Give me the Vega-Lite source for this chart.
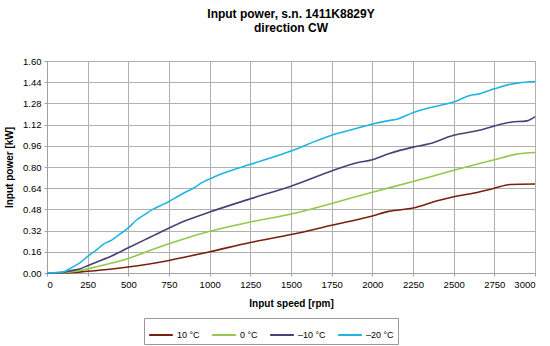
{
  "$schema": "https://vega.github.io/schema/vega-lite/v6.json",
  "width": 488,
  "height": 212,
  "autosize": {"type": "none"},
  "padding": {"left": 47, "top": 61, "right": 15, "bottom": 73},
  "background": "white",
  "title": {
    "text": ["Input power, s.n. 1411K8829Y", "direction CW"],
    "font": "Liberation Sans",
    "fontSize": 12,
    "fontWeight": "bold",
    "lineHeight": 14,
    "color": "#000000",
    "anchor": "middle",
    "offset": 21
  },
  "config": {
    "font": "Liberation Sans",
    "view": {"stroke": "#a0a0a0", "strokeWidth": 1},
    "axis": {
      "labelFont": "Liberation Sans",
      "labelFontSize": 9.5,
      "labelColor": "#000000",
      "titleFont": "Liberation Sans",
      "titleFontSize": 10,
      "titleFontWeight": "bold",
      "titleColor": "#000000",
      "gridColor": "#b0b0b0",
      "gridWidth": 1,
      "gridOpacity": 1,
      "domainColor": "#a0a0a0",
      "tickColor": "#a0a0a0",
      "tickSize": 3
    }
  },
  "data": {
    "values": [
      {"rpm": 0, "power": 0, "series": "10 °C"},
      {"rpm": 100, "power": 0.0, "series": "10 °C"},
      {"rpm": 250, "power": 0.013, "series": "10 °C"},
      {"rpm": 400, "power": 0.03, "series": "10 °C"},
      {"rpm": 500, "power": 0.045, "series": "10 °C"},
      {"rpm": 750, "power": 0.095, "series": "10 °C"},
      {"rpm": 1000, "power": 0.16, "series": "10 °C"},
      {"rpm": 1250, "power": 0.23, "series": "10 °C"},
      {"rpm": 1500, "power": 0.29, "series": "10 °C"},
      {"rpm": 1750, "power": 0.36, "series": "10 °C"},
      {"rpm": 2000, "power": 0.43, "series": "10 °C"},
      {"rpm": 2100, "power": 0.465, "series": "10 °C"},
      {"rpm": 2250, "power": 0.49, "series": "10 °C"},
      {"rpm": 2400, "power": 0.545, "series": "10 °C"},
      {"rpm": 2500, "power": 0.575, "series": "10 °C"},
      {"rpm": 2650, "power": 0.61, "series": "10 °C"},
      {"rpm": 2750, "power": 0.64, "series": "10 °C"},
      {"rpm": 2850, "power": 0.668, "series": "10 °C"},
      {"rpm": 3000, "power": 0.672, "series": "10 °C"},

      {"rpm": 0, "power": 0, "series": "0 °C"},
      {"rpm": 100, "power": 0.003, "series": "0 °C"},
      {"rpm": 200, "power": 0.018, "series": "0 °C"},
      {"rpm": 300, "power": 0.045, "series": "0 °C"},
      {"rpm": 400, "power": 0.075, "series": "0 °C"},
      {"rpm": 500, "power": 0.11, "series": "0 °C"},
      {"rpm": 600, "power": 0.155, "series": "0 °C"},
      {"rpm": 750, "power": 0.22, "series": "0 °C"},
      {"rpm": 850, "power": 0.26, "series": "0 °C"},
      {"rpm": 1000, "power": 0.315, "series": "0 °C"},
      {"rpm": 1250, "power": 0.385, "series": "0 °C"},
      {"rpm": 1500, "power": 0.445, "series": "0 °C"},
      {"rpm": 1750, "power": 0.525, "series": "0 °C"},
      {"rpm": 2000, "power": 0.61, "series": "0 °C"},
      {"rpm": 2250, "power": 0.69, "series": "0 °C"},
      {"rpm": 2500, "power": 0.775, "series": "0 °C"},
      {"rpm": 2750, "power": 0.855, "series": "0 °C"},
      {"rpm": 2900, "power": 0.9, "series": "0 °C"},
      {"rpm": 3000, "power": 0.91, "series": "0 °C"},

      {"rpm": 0, "power": 0, "series": "–10 °C"},
      {"rpm": 100, "power": 0.005, "series": "–10 °C"},
      {"rpm": 150, "power": 0.018, "series": "–10 °C"},
      {"rpm": 200, "power": 0.03, "series": "–10 °C"},
      {"rpm": 250, "power": 0.055, "series": "–10 °C"},
      {"rpm": 300, "power": 0.08, "series": "–10 °C"},
      {"rpm": 400, "power": 0.13, "series": "–10 °C"},
      {"rpm": 500, "power": 0.19, "series": "–10 °C"},
      {"rpm": 600, "power": 0.25, "series": "–10 °C"},
      {"rpm": 700, "power": 0.31, "series": "–10 °C"},
      {"rpm": 850, "power": 0.395, "series": "–10 °C"},
      {"rpm": 1000, "power": 0.46, "series": "–10 °C"},
      {"rpm": 1250, "power": 0.56, "series": "–10 °C"},
      {"rpm": 1500, "power": 0.655, "series": "–10 °C"},
      {"rpm": 1750, "power": 0.77, "series": "–10 °C"},
      {"rpm": 1900, "power": 0.83, "series": "–10 °C"},
      {"rpm": 2000, "power": 0.855, "series": "–10 °C"},
      {"rpm": 2100, "power": 0.9, "series": "–10 °C"},
      {"rpm": 2250, "power": 0.95, "series": "–10 °C"},
      {"rpm": 2350, "power": 0.975, "series": "–10 °C"},
      {"rpm": 2500, "power": 1.04, "series": "–10 °C"},
      {"rpm": 2650, "power": 1.075, "series": "–10 °C"},
      {"rpm": 2750, "power": 1.11, "series": "–10 °C"},
      {"rpm": 2850, "power": 1.138, "series": "–10 °C"},
      {"rpm": 2950, "power": 1.148, "series": "–10 °C"},
      {"rpm": 3000, "power": 1.18, "series": "–10 °C"},

      {"rpm": 0, "power": 0, "series": "–20 °C"},
      {"rpm": 100, "power": 0.008, "series": "–20 °C"},
      {"rpm": 150, "power": 0.04, "series": "–20 °C"},
      {"rpm": 200, "power": 0.075, "series": "–20 °C"},
      {"rpm": 250, "power": 0.125, "series": "–20 °C"},
      {"rpm": 300, "power": 0.17, "series": "–20 °C"},
      {"rpm": 350, "power": 0.22, "series": "–20 °C"},
      {"rpm": 400, "power": 0.25, "series": "–20 °C"},
      {"rpm": 450, "power": 0.295, "series": "–20 °C"},
      {"rpm": 500, "power": 0.34, "series": "–20 °C"},
      {"rpm": 550, "power": 0.4, "series": "–20 °C"},
      {"rpm": 600, "power": 0.44, "series": "–20 °C"},
      {"rpm": 650, "power": 0.48, "series": "–20 °C"},
      {"rpm": 700, "power": 0.51, "series": "–20 °C"},
      {"rpm": 750, "power": 0.54, "series": "–20 °C"},
      {"rpm": 800, "power": 0.575, "series": "–20 °C"},
      {"rpm": 850, "power": 0.61, "series": "–20 °C"},
      {"rpm": 900, "power": 0.64, "series": "–20 °C"},
      {"rpm": 950, "power": 0.68, "series": "–20 °C"},
      {"rpm": 1000, "power": 0.71, "series": "–20 °C"},
      {"rpm": 1100, "power": 0.76, "series": "–20 °C"},
      {"rpm": 1250, "power": 0.82, "series": "–20 °C"},
      {"rpm": 1500, "power": 0.92, "series": "–20 °C"},
      {"rpm": 1600, "power": 0.97, "series": "–20 °C"},
      {"rpm": 1750, "power": 1.04, "series": "–20 °C"},
      {"rpm": 1900, "power": 1.09, "series": "–20 °C"},
      {"rpm": 2000, "power": 1.125, "series": "–20 °C"},
      {"rpm": 2100, "power": 1.15, "series": "–20 °C"},
      {"rpm": 2150, "power": 1.16, "series": "–20 °C"},
      {"rpm": 2250, "power": 1.21, "series": "–20 °C"},
      {"rpm": 2300, "power": 1.23, "series": "–20 °C"},
      {"rpm": 2400, "power": 1.26, "series": "–20 °C"},
      {"rpm": 2500, "power": 1.29, "series": "–20 °C"},
      {"rpm": 2600, "power": 1.34, "series": "–20 °C"},
      {"rpm": 2650, "power": 1.35, "series": "–20 °C"},
      {"rpm": 2750, "power": 1.39, "series": "–20 °C"},
      {"rpm": 2850, "power": 1.425, "series": "–20 °C"},
      {"rpm": 2900, "power": 1.435, "series": "–20 °C"},
      {"rpm": 3000, "power": 1.445, "series": "–20 °C"}
    ]
  },
  "mark": {"type": "line", "strokeWidth": 1.6, "interpolate": "monotone"},
  "encoding": {
    "x": {
      "field": "rpm",
      "type": "quantitative",
      "title": "Input speed [rpm]",
      "scale": {"domain": [0, 3000], "nice": false},
      "axis": {"values": [0, 250, 500, 750, 1000, 1250, 1500, 1750, 2000, 2250, 2500, 2750, 3000], "format": "d", "titlePadding": 10, "labelPadding": 3}
    },
    "y": {
      "field": "power",
      "type": "quantitative",
      "title": "Input power [kW]",
      "scale": {"domain": [0, 1.6], "nice": false},
      "axis": {"values": [0, 0.16, 0.32, 0.48, 0.64, 0.8, 0.96, 1.12, 1.28, 1.44, 1.6], "format": ".2f", "titlePadding": 8, "labelPadding": 3}
    },
    "color": {
      "field": "series",
      "type": "nominal",
      "sort": ["10 °C", "0 °C", "–10 °C", "–20 °C"],
      "scale": {
        "domain": ["10 °C", "0 °C", "–10 °C", "–20 °C"],
        "range": ["#7a1f10", "#8fca4a", "#4b3f78", "#20b4e4"]
      },
      "legend": {
        "title": null,
        "orient": "none",
        "direction": "horizontal",
        "legendX": 97,
        "legendY": 257,
        "symbolType": "stroke",
        "symbolSize": 560,
        "symbolStrokeWidth": 2,
        "labelFont": "Liberation Sans",
        "labelFontSize": 9,
        "labelColor": "#000000",
        "labelOffset": 3,
        "columnPadding": 8,
        "strokeColor": "#999999",
        "padding": 4
      }
    }
  }
}
